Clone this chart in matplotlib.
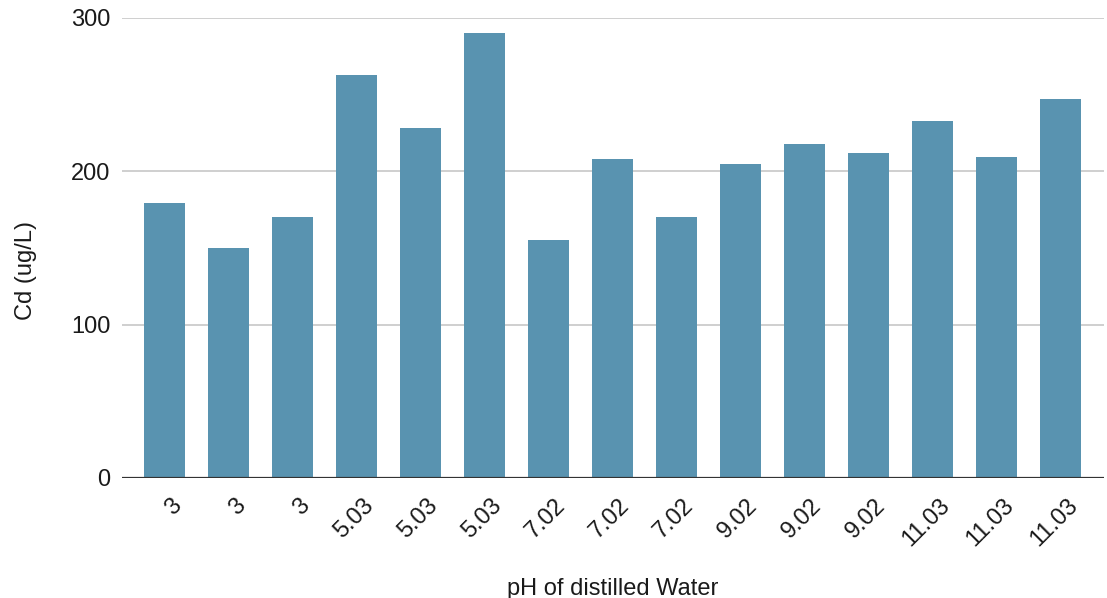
import matplotlib.pyplot as plt
from matplotlib.transforms import ScaledTranslation

# Datos
ph_labels = ['3', '3', '3', '5.03', '5.03', '5.03', '7.02', '7.02', '7.02',
             '9.02', '9.02', '9.02', '11.03', '11.03', '11.03']
cd_values = [179, 150, 170, 263, 228, 290, 155, 208, 170,
             205, 218, 212, 233, 209, 247]

plt.rcParams['font.family'] = ['Liberation Sans', 'DejaVu Sans']

fig = plt.figure(figsize=(11.07, 5.98), dpi=100)
ax = fig.add_axes([0.110, 0.2007, 0.887, 0.7693])

x = list(range(len(cd_values)))
ax.bar(x, cd_values, width=0.64, color='#5993b0', zorder=3)

ax.set_xlim(-0.67, len(cd_values) - 1 + 0.67)
ax.set_ylim(0, 300)
ax.set_yticks([0, 100, 200, 300])
ax.yaxis.grid(True, color='#cccccc', linewidth=1.3, zorder=0)
ax.axhline(0, color='#333333', linewidth=1.6, zorder=4)

for s in ['top', 'right', 'left', 'bottom']:
    ax.spines[s].set_visible(False)

ax.set_xticks(x)
ax.set_xticklabels(ph_labels, rotation=45, ha='right', rotation_mode='anchor')
ax.tick_params(axis='both', length=0, labelsize=17, colors='#1a1a1a')
ax.tick_params(axis='x', pad=12)
ax.tick_params(axis='y', pad=8)

# desplazar un poco las etiquetas del eje X a la derecha
offset = ScaledTranslation(6 / 100, 0, fig.dpi_scale_trans)
for lbl in ax.get_xticklabels():
    lbl.set_transform(lbl.get_transform() + offset)

ax.set_xlabel('pH of distilled Water', fontsize=17, color='#1a1a1a', va='baseline')
ax.xaxis.set_label_coords(0.5, -0.254)
ax.set_ylabel('Cd (ug/L)', fontsize=17, color='#1a1a1a')
ax.yaxis.set_label_coords(-0.086, 0.45)

plt.savefig('out.png', dpi=100)
plt.close()
